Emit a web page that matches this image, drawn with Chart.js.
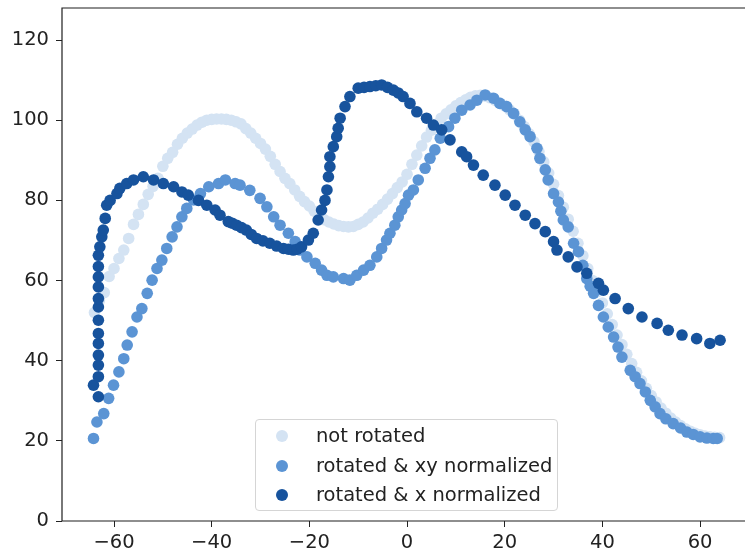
<!DOCTYPE html>
<html>
<head>
<meta charset="utf-8">
<script src="https://cdn.jsdelivr.net/npm/chart.js@4.4.1/dist/chart.umd.min.js"></script>
<style>
  html, body { margin: 0; padding: 0; background: #fff; overflow: hidden; }
  #wrap { position: relative; width: 745px; height: 557px; overflow: hidden; }
  #plot { position: absolute; left: 0; top: 0; }
  #legend {
    position: absolute; left: 255px; top: 419px; width: 301px; height: 90px;
    border: 1px solid #d5d5d5; border-radius: 4px; background: rgba(255,255,255,0.8);
    font-family: "DejaVu Sans", sans-serif; font-size: 19.5px; color: #222;
  }
  .row { position: absolute; left: 0; height: 30px; line-height: 30px; white-space: nowrap; }
  .dot { position: absolute; left: 20px; top: 9px; width: 12px; height: 12px; border-radius: 50%; }
  .lbl { position: absolute; left: 60px; top: 0; }
</style>
</head>
<body>
<div id="wrap">
  <canvas id="plot" width="745" height="557"></canvas>
  <div id="legend"></div>
</div>
<script>
// axis ticks
const xTicks = [-60, -40, -20, 0, 20, 40, 60];
const yTicks = [0, 20, 40, 60, 80, 100, 120];

const seriesLabels = ["not rotated", "rotated & xy normalized", "rotated & x normalized"];
const seriesColors = ["#d4e3f3", "#5b94d4", "#17539d"];

// not rotated
const lightX = [-64,-63,-62,-61,-60,-59,-58,-57,-56,-55,-54,-53,-52,-51,-50,-49,-48,-47,-46,-45,
  -44,-43,-42,-41,-40,-39,-38,-37,-36,-35,-34,-33,-32,-31,-30,-29,-28,-27,-26,-25,
  -24,-23,-22,-21,-20,-19,-18,-17,-16,-15,-14,-13,-12,-11,-10,-9,-8,-7,-6,-5,
  -4,-3,-2,-1,0,1,2,3,4,5,6,7,8,9,10,11,12,13,14,15,
  16,17,18,19,20,21,22,23,24,25,26,27,28,29,30,31,32,33,34,35,
  36,37,38,39,40,41,42,43,44,45,46,47,48,49,50,51,52,53,54,55,
  56,57,58,59,60,61,62,63,64];
const lightY = [52,55,57,61,63,65.5,67.6,70.5,74,76.5,79,81.5,83.5,85.5,88.5,90.5,92,94,95.5,96.8,
  97.8,98.8,99.5,100,100.2,100.3,100.3,100.2,100,99.6,99.1,97.9,96.8,95.5,94.2,92.8,91,89,87.2,85.5,
  84.2,82.6,81,79.7,78.6,77.3,76,75.2,74.6,74.1,73.7,73.5,73.4,73.5,74,74.6,75.6,76.8,77.8,79,
  80.3,81.7,83.2,84.6,86.5,89,91.3,93.6,95.8,97.5,99,100.5,101.6,102.6,103.6,104.4,105.1,105.7,106.1,106.2,
  106,105.6,105,104.3,103.6,102.6,101.5,100,98.4,96.6,94.6,92.2,89.6,86.8,84,81.2,78.3,75.3,72.3,69.3,
  66.2,63,60,57.2,54.4,51.7,49,46.4,44,41.6,39.3,37.1,35,33.1,31.3,29.7,28.2,26.9,25.7,24.7,
  23.8,23,22.4,21.9,21.5,21.2,21,20.9,20.8];

// rotated & xy normalized
const midX = [-64.2,-63.5,-62.1,-61.1,-60.1,-59,-58,-57.3,-56.3,-55.3,
  -54.3,-53.2,-52.2,-51.2,-50.2,-49.2,-48.1,-47.1,-46.1,-45.1,
  -43.7,-42.3,-40.6,-38.6,-37.2,-35.2,-34.2,-32.2,-30.1,-28.7,
  -27.3,-26,-24.3,-22.9,-21.9,-20.5,-18.8,-17.5,-16.4,-15.1,
  -13,-11.7,-10.3,-8.9,-7.6,-6.2,-5.2,-4.2,-3.5,-2.5,
  -1.8,-1.1,-0.4,0.3,1.3,2.3,3.7,4.7,5.7,6.8,
  8.5,9.8,11.2,12.9,14.3,16,17.7,19,20.4,21.8,
  23.1,24.2,25.2,26.6,27.2,28.3,28.9,30,31,31.5,32,
  33,34.1,35.1,36,36.8,37.5,38.2,39.2,40.2,41.2,42.3,
  43.2,44,45.7,46.7,47.7,48.8,49.8,50.8,51.8,53,
  54.5,56,57.3,58.6,60,61.4,62.7,63.5];
const midY = [20.6,24.7,26.8,30.6,33.9,37.2,40.5,43.9,47.2,50.9,
  53,56.8,60.1,63,65.1,68,70.9,73.4,75.9,78,
  80.1,81.7,83.4,84.2,85.1,84.2,83.8,82.5,80.5,78.4,
  75.9,73.8,71.8,69.7,67.6,65.9,64.3,62.6,61.3,60.9,
  60.5,60.1,61.3,62.6,63.8,65.9,68,70.1,71.8,73.8,
  75.9,77.6,79.2,81.3,82.6,85.1,88,90.5,92.6,95.5,
  98.4,100.5,102.5,103.8,105,106.3,105.5,104.2,103.4,101.7,
  99.6,97.6,95.9,93,90.5,87.6,85.1,81.7,79.6,77.3,75.1,
  73.4,69.3,67.2,63.8,60.5,58.6,56.8,53.8,50.9,48.4,45.9,
  43.4,40.9,37.6,36,34.3,32.2,30.1,28.5,26.8,25.5,
  24.3,23.2,22.2,21.6,21,20.7,20.6,20.6];

// rotated & x normalized
const darkX = [-64.2,
  -63.2,-63.2,-63.2,-63.2,-63.2,-63.2,-63.2,-63.2,-63.2,-63.2,-63.2,-63.2,-63.2,
  -62.9,-62.5,-62.2,-61.8,-61.5,-60.8,-59.4,-58.8,-57.4,-56,
  -54,-51.9,-49.9,-47.8,-46.1,-44.8,-42.7,-41,-39.3,-38.3,
  -36.6,-35.8,-34.9,-33.9,-32.9,-31.9,-30.8,-29.5,-28.1,-26.7,
  -25.3,-24.3,-23.3,-22.5,-21.6,-20.2,-19.2,-18.2,-17.5,-16.8,
  -16.4,-16.1,-15.8,-15.8,-15.1,-14.4,-14.1,-13.7,-12.7,-11.7,
  -10,-8.8,-7.6,-6.4,-5.2,-4,-2.8,-1.8,-0.8,0.6,2,4,5.4,7.1,
  8.8,11.2,12.2,13.6,15.6,18,20.1,22.1,24.2,26.2,
  28.3,30,30.7,33,34.8,36.8,39.2,40.2,42.6,45.3,
  48.1,51.2,53.5,56.3,59.3,62,64.1];
const darkY = [33.9,
  31,36,38.9,41.4,44.3,46.8,50.1,53.4,55.5,58.4,60.9,63.5,66.3,
  68.4,70.9,72.6,75.5,78.8,80,81.7,83,84.2,85.1,
  85.9,85.1,84.2,83.4,82.1,81.3,80,78.8,77.6,76.3,
  74.7,74.3,73.8,73.2,72.6,71.5,70.5,69.9,69.3,68.6,
  68,67.8,67.6,67.8,68.4,70.1,71.8,75.1,77.6,80,
  82.6,85.9,88.4,90.9,93.4,95.9,98,100.5,103.4,105.9,
  108,108.2,108.4,108.6,108.8,108.2,107.5,106.8,105.9,104.2,102.1,100.5,98.8,97.6,
  95.1,92.1,90.9,88.8,86.3,83.8,81.3,78.8,76.3,74.2,
  72.2,69.7,67.6,65.9,63.4,61.8,59.3,57.6,55.5,53,
  50.9,49.3,47.6,46.4,45.5,44.3,45.1];

const toPoints = (xs, ys) => xs.map((x, i) => ({ x: x, y: ys[i] }));

const fontTicks = { family: "DejaVu Sans", size: 19.5 };
const minus = v => (v < 0 ? "\u2212" + Math.abs(v) : String(v));

// no extra label padding, so the plot box stays where it is set
const noPad = s => { s.paddingTop = 0; s.paddingBottom = 0; s.paddingLeft = 0; s.paddingRight = 0; };

// spines: left, top, bottom (right one falls outside the picture)
const frame = {
  id: "frame",
  afterDraw(chart) {
    const { ctx, chartArea: a } = chart;
    ctx.save();
    ctx.strokeStyle = "#1e1e1e";
    ctx.lineWidth = 1.2;
    ctx.beginPath();
    ctx.moveTo(a.right + 2, a.top);
    ctx.lineTo(a.left, a.top);
    ctx.lineTo(a.left, a.bottom);
    ctx.lineTo(a.right + 2, a.bottom);
    ctx.stroke();
    ctx.restore();
  }
};

const seriesData = [toPoints(lightX, lightY), toPoints(midX, midY), toPoints(darkX, darkY)];

const chart = new Chart(document.getElementById("plot"), {
  type: "scatter",
  data: {
    datasets: seriesData.map((pts, i) => ({
      label: seriesLabels[i],
      data: pts,
      backgroundColor: seriesColors[i],
      borderWidth: 0,
      pointRadius: 5.8,
      pointHoverRadius: 5.8,
      order: 3 - i
    }))
  },
  options: {
    responsive: false,
    devicePixelRatio: 1,
    animation: false,
    events: [],
    layout: { autoPadding: false, padding: { left: 0, top: 8, right: 0, bottom: 0 } },
    plugins: { legend: { display: false }, tooltip: { enabled: false } },
    scales: {
      x: {
        type: "linear",
        min: -70.65,
        max: 69.2,
        afterBuildTicks: s => { s.ticks = xTicks.map(v => ({ value: v })); },
        afterFit: s => { s.height = 36; noPad(s); },
        ticks: { font: fontTicks, color: "#222", padding: 4, maxRotation: 0, callback: minus },
        grid: { drawOnChartArea: false, tickLength: 6, tickColor: "#222" },
        border: { display: false }
      },
      y: {
        min: 0,
        max: 128,
        afterBuildTicks: s => { s.ticks = yTicks.map(v => ({ value: v })); },
        afterFit: s => { s.width = 62; noPad(s); },
        ticks: { font: fontTicks, color: "#222", padding: 7, callback: minus },
        grid: { drawOnChartArea: false, tickLength: 6, tickColor: "#222" },
        border: { display: false }
      }
    }
  },
  plugins: [frame]
});

// legend, built from the datasets
const legend = document.getElementById("legend");
const rowTops = [1, 31, 60];
chart.data.datasets.forEach((ds, i) => {
  const row = document.createElement("div");
  row.className = "row";
  row.style.top = rowTops[i] + "px";
  row.innerHTML = '<span class="dot" style="background:' + ds.backgroundColor + '"></span>' +
    '<span class="lbl">' + ds.label.replace("&", "&amp;") + "</span>";
  legend.appendChild(row);
});
</script>
</body>
</html>
